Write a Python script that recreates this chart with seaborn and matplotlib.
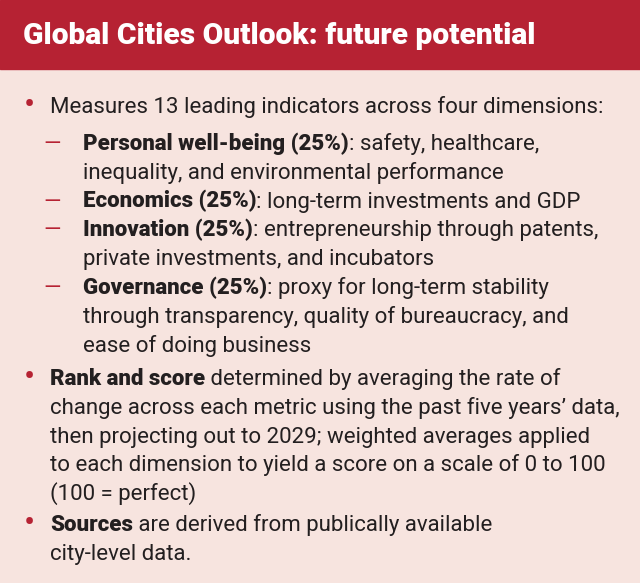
import matplotlib
matplotlib.use("Agg")
import matplotlib.pyplot as plt
import seaborn as sns
from matplotlib.patches import Rectangle

# ---- content ----
title = "Global Cities Outlook: future potential"
intro = "Measures 13 leading indicators across four dimensions:"
dimensions = ["Personal well-being", "Economics", "Innovation", "Governance"]
weights = [25, 25, 25, 25]
dim_desc = [
    [": safety, healthcare,", "inequality, and environmental performance"],
    [": long-term investments and GDP"],
    [": entrepreneurship through patents,", "private investments, and incubators"],
    [": proxy for long-term stability", "through transparency, quality of bureaucracy, and",
     "ease of doing business"],
]
rank_bold = "Rank and score"
rank_lines = [" determined by averaging the rate of",
              "change across each metric using the past five years\u2019 data,",
              "then projecting out to 2029; weighted averages applied",
              "to each dimension to yield a score on a scale of 0 to 100",
              "(100 = perfect)"]
src_bold = "Sources"
src_lines = [" are derived from publically available", "city-level data."]

# ---- style ----
RED = "#B62233"
BG = "#F7E4DF"
TXT = "#231F20"
sns.set_theme(style="white", rc={"figure.facecolor": BG, "axes.facecolor": BG})
plt.rcParams["font.family"] = ["Roboto", "DejaVu Sans"]

W, H = 640, 583
fig = plt.figure(figsize=(W / 100, H / 100), dpi=100)
ax = fig.add_axes([0, 0, 1, 1])
ax.set_xlim(0, W)
ax.set_ylim(H, 0)
ax.axis("off")

ax.add_patch(Rectangle((0, 0), W, 69, color=RED, zorder=0))
ax.text(23, 44, title, color="white", fontsize=21.6, fontweight="heavy",
        va="baseline", ha="left")

FS = 16
renderer = fig.canvas.get_renderer()


def put(x, y, bold, rest):
    xx = x
    if bold:
        t = ax.text(x, y, bold, fontsize=FS, fontweight="heavy", color=TXT,
                    va="baseline", ha="left")
        bb = t.get_window_extent(renderer=renderer)
        xx = ax.transData.inverted().transform((bb.x1, bb.y0))[0]
    if rest:
        ax.text(xx, y, rest, fontsize=FS, color=TXT, va="baseline", ha="left")


def bullet(y):
    ax.text(29, y + 2, "\u2022", fontsize=24, color=RED, va="baseline", ha="center")


def dash(y):
    ax.text(52, y, "\u2014", fontsize=FS, color=RED, va="baseline", ha="center")


LH = 28.8
y = 113
bullet(y)
put(50, y, None, intro)
y = 150
for name, w, desc in zip(dimensions, weights, dim_desc):
    dash(y)
    put(83, y, f"{name} ({w}%)", desc[0])
    for line in desc[1:]:
        y += LH
        put(83, y, None, line)
    y += LH

y = 385
bullet(y)
put(50, y, rank_bold, rank_lines[0])
for line in rank_lines[1:]:
    y += LH
    put(50, y, None, line)

y = 531
bullet(y)
put(50, y, src_bold, src_lines[0])
for line in src_lines[1:]:
    y += LH
    put(50, y, None, line)

fig.savefig("out.png", dpi=100, facecolor=BG)
